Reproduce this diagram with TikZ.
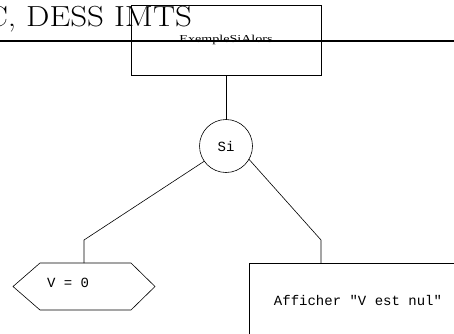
\documentclass[tikz,border=0pt]{standalone}
\usepackage{fontspec}
\usepackage{graphicx}
\usetikzlibrary{calc}
\newfontfamily\codefont{Liberation Mono}
\newfontfamily\labelfont{Liberation Serif}
\begin{document}
\begin{tikzpicture}[x=1pt,y=-1pt,
  line width=0.6pt,
  every node/.style={inner sep=0pt, outer sep=0pt},
  code/.style={font=\codefont\fontsize{14}{16}\selectfont},
  link/.style={draw, line width=0.6pt},
  progbox/.style={draw, rectangle, minimum width=190pt, minimum height=70pt,
    font=\labelfont\fontsize{10.6}{12}\selectfont},
  testnode/.style={draw, circle, minimum size=53pt, code},
  actionbox/.style={draw, rectangle, minimum width=218pt, minimum height=74pt, code}
]
\useasboundingbox (0,0) rectangle (454,333);

% header title (runs off the left edge)
\node[anchor=base east, font=\fontsize{29}{34}\selectfont] (title) at (192,26.5)
  {\scalebox{1.14}[1]{C, DESS IMTS}};

% program box
\node[progbox] (prog) at (226,40) {\scalebox{1.33}[1]{ExempleSiAlors}};

% header rule
\coordinate (ruleL) at (0,41);
\coordinate (ruleR) at (454,41);
\draw[line width=1.3pt] (ruleL) -- (ruleR);

% condition
\node[testnode] (si) at (226,146) {\raisebox{-3pt}{Si}};
\draw[link] (prog) -- (si);

% condition expression (hexagon)
\node[minimum width=142pt, minimum height=47pt] (hex) at (84,286.5) {};
\draw ($(hex.west)$) -- ($(hex.north west)+(27,0)$) -- ($(hex.north east)+(-24,0)$)
  -- (hex.east) -- ($(hex.south east)+(-24,0)$) -- ($(hex.south west)+(27,0)$) -- cycle;
\node[code, anchor=base west] (hextxt) at ($(hex.west)+(34,1)$) {V = 0};

% action box
\node[actionbox, anchor=north west] (aff) at (249,263) {Afficher "V est nul"};

% branches
\coordinate (lbend) at (84,240);
\coordinate (rbend) at (321,240);
\draw[link] (si.215) -- (lbend) -- (hex.north);
\draw[link] (si.-30) -- (rbend) -- (rbend |- aff.north);
\end{tikzpicture}
\end{document}
